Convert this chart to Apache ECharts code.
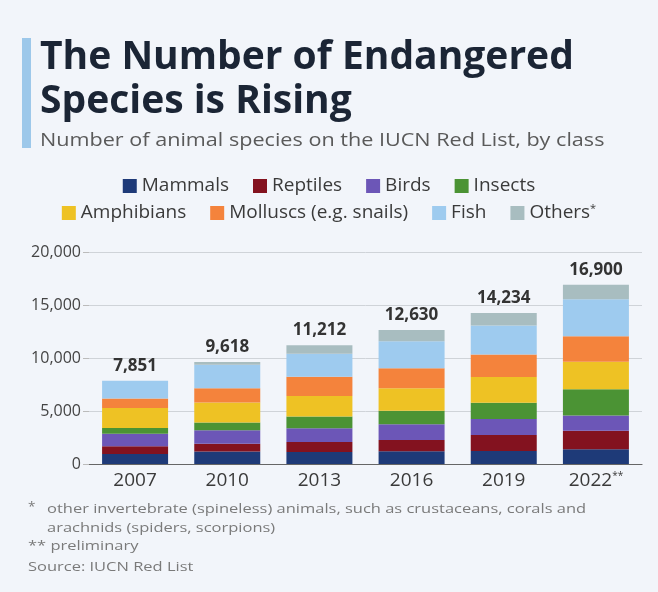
<!DOCTYPE html>
<html>
<head>
<meta charset="utf-8">
<script src="https://cdn.jsdelivr.net/npm/echarts@6/dist/echarts.min.js"></script>
<style>
  html, body { margin: 0; padding: 0; background: #f2f5fa; }
  #chart { width: 658px; height: 592px; }
</style>
</head>
<body>
<div id="chart"></div>
<script>
// Survey years on the IUCN Red List
const years = ['2007', '2010', '2013', '2016', '2019', '2022'];

// Threatened species counts by class
const mammals    = [950, 1174, 1121, 1206, 1236, 1398];
const reptiles   = [728, 730, 961, 1047, 1490, 1747];
const birds      = [1171, 1270, 1281, 1491, 1522, 1430];
const insects    = [538, 730, 1121, 1269, 1522, 2478];
const amphibians = [1900, 1904, 1922, 2126, 2441, 2605];
const molluscs   = [886, 1333, 1826, 1904, 2124, 2383];
const fish       = [1678, 2222, 2178, 2540, 2726, 3493];
const others     = [0, 255, 802, 1047, 1173, 1366];

// Y axis ticks
const yTicks = [0, 5000, 10000, 15000, 20000];

const classes = [
  { name: 'Mammals', data: mammals, color: '#1e3a78' },
  { name: 'Reptiles', data: reptiles, color: '#83121f' },
  { name: 'Birds', data: birds, color: '#6c56b7' },
  { name: 'Insects', data: insects, color: '#4b9334' },
  { name: 'Amphibians', data: amphibians, color: '#eec224' },
  { name: 'Molluscs (e.g. snails)', data: molluscs, color: '#f4833c' },
  { name: 'Fish', data: fish, color: '#9ecbef' },
  { name: 'Others*', data: others, color: '#a8bdc0' }
];

const totals = years.map((_, i) => classes.reduce((s, c) => s + c.data[i], 0));
const fmt = v => v.toLocaleString('en-US');

const chart = echarts.init(document.getElementById('chart'), null, { renderer: 'canvas' });

const series = classes.map((c, idx) => {
  const s = {
    name: c.name,
    type: 'bar',
    stack: 'all',
    data: c.data,
    barWidth: 66,
    itemStyle: { color: c.color },
    emphasis: { disabled: true }
  };
  if (idx === classes.length - 1) {
    s.label = {
      show: true,
      position: 'top',
      distance: 6,
      formatter: p => fmt(totals[p.dataIndex]),
      fontFamily: 'Open Sans',
      fontWeight: 'bold',
      fontSize: 17,
      color: '#333'
    };
  }
  return s;
});

const legendText = {
  fontFamily: 'Open Sans',
  fontSize: 19,
  lineHeight: 20,
  color: '#3a3a3a',
  rich: {
    sup: { fontSize: 11, verticalAlign: 'top', lineHeight: 12, color: '#3a3a3a', fontFamily: 'Open Sans' }
  }
};
const legendFormatter = name => name.endsWith('*') ? name.slice(0, -1) + '{sup|*}' : name;

const noteFont = '13.5px "Open Sans"';
const noteColor = '#7a7a7a';

chart.setOption({
  backgroundColor: '#f2f5fa',
  animation: false,
  graphic: [
    { type: 'rect', shape: { x: 22, y: 38, width: 9, height: 110 }, style: { fill: '#9dc8ea' } },
    { type: 'text', x: 40, y: 36,
      style: { text: 'The Number of Endangered\nSpecies is Rising', font: 'bold 39px "Open Sans"', fill: '#1b2535', lineHeight: 44, verticalAlign: 'top' } },
    { type: 'text', x: 40, y: 132, scaleX: 1.2,
      style: { text: 'Number of animal species on the IUCN Red List, by class', font: '18px "Open Sans"', fill: '#5a5a5a', verticalAlign: 'top' } },
    { type: 'text', x: 28, y: 500,
      style: { text: '*', font: noteFont, fill: noteColor, verticalAlign: 'top' } },
    { type: 'text', x: 47, y: 500, scaleX: 1.22,
      style: { text: 'other invertebrate (spineless) animals, such as crustaceans, corals and\narachnids (spiders, scorpions)', font: noteFont, fill: noteColor, lineHeight: 19, verticalAlign: 'top' } },
    { type: 'text', x: 28, y: 539, scaleX: 1.22,
      style: { text: '** preliminary', font: noteFont, fill: noteColor, verticalAlign: 'top' } },
    { type: 'text', x: 28, y: 560, scaleX: 1.22,
      style: { text: 'Source: IUCN Red List', font: noteFont, fill: noteColor, verticalAlign: 'top' } }
  ],
  legend: [
    {
      data: classes.slice(0, 4).map(c => c.name),
      top: 171, left: 'center',
      itemWidth: 14, itemHeight: 14, itemGap: 24,
      icon: 'rect', selectedMode: false,
      textStyle: legendText, formatter: legendFormatter
    },
    {
      data: classes.slice(4).map(c => c.name),
      top: 198, left: 'center',
      itemWidth: 14, itemHeight: 14, itemGap: 24,
      icon: 'rect', selectedMode: false,
      textStyle: legendText, formatter: legendFormatter
    }
  ],
  grid: { left: 89, right: 16, top: 252, height: 212, containLabel: false },
  xAxis: {
    type: 'category',
    data: years,
    axisLine: { lineStyle: { color: '#666', width: 1.2 } },
    axisTick: { show: false },
    axisLabel: {
      interval: 0,
      fontFamily: 'Open Sans', fontSize: 19, color: '#3a3a3a', margin: 7,
      formatter: v => v === '2022' ? v + '{sup|**}' : v,
      rich: { sup: { fontSize: 10, verticalAlign: 'top', lineHeight: 10, color: '#3a3a3a', fontFamily: 'Open Sans' } }
    }
  },
  yAxis: {
    type: 'value',
    min: yTicks[0],
    max: yTicks[yTicks.length - 1],
    interval: yTicks[1] - yTicks[0],
    axisLine: { show: false },
    axisTick: { show: true, length: 6, lineStyle: { color: '#bbb' } },
    axisLabel: { fontFamily: 'Open Sans', fontSize: 16, color: '#444', margin: 8, formatter: v => fmt(v) },
    splitLine: { lineStyle: { color: '#cfd3d8', width: 1 } }
  },
  series: series
});
</script>
</body>
</html>
